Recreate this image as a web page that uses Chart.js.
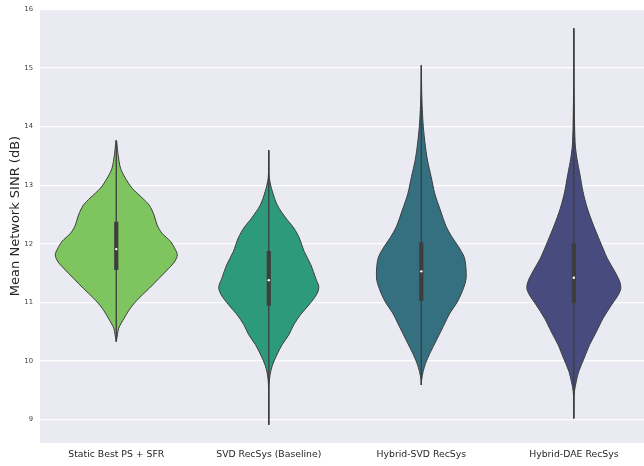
<!DOCTYPE html>
<html>
<head>
<meta charset="utf-8">
<script src="https://cdn.jsdelivr.net/npm/chart.js@4.4.1/dist/chart.umd.min.js"></script>
<style>
  html, body { margin: 0; padding: 0; background: #fff; }
  #sinr-chart { display: block; }
</style>
</head>
<body>
<canvas id="sinr-chart" width="644" height="466"></canvas>
<script>
const categories = ['Static Best PS + SFR', 'SVD RecSys (Baseline)', 'Hybrid-SVD RecSys', 'Hybrid-DAE RecSys'];
const yTicks = [9, 10, 11, 12, 13, 14, 15, 16];

// Density profiles: SINR level (dB) and relative violin width (widest = 1)
const staticLevels = [10.33, 10.45, 10.56, 10.73, 10.90, 11.07, 11.24, 11.41, 11.58, 11.70, 11.81, 11.90, 12.04, 12.18, 12.32, 12.49, 12.66, 12.78, 12.95, 13.12, 13.29, 13.52, 13.77];
const staticWidths = [0, 0.02, 0.04, 0.13, 0.23, 0.37, 0.54, 0.70, 0.86, 0.96, 1.0, 0.97, 0.89, 0.75, 0.67, 0.62, 0.54, 0.43, 0.26, 0.15, 0.07, 0.03, 0];

const svdLevels = [8.91, 9.30, 9.59, 9.76, 9.93, 10.10, 10.28, 10.45, 10.62, 10.79, 10.96, 11.13, 11.26, 11.41, 11.64, 11.87, 12.10, 12.27, 12.44, 12.66, 12.89, 13.12, 13.60];
const svdWidths = [0, 0.002, 0.005, 0.02, 0.06, 0.13, 0.22, 0.33, 0.41, 0.52, 0.66, 0.78, 0.82, 0.77, 0.69, 0.58, 0.50, 0.41, 0.28, 0.14, 0.06, 0.01, 0];

const hybridSvdLevels = [9.59, 9.68, 9.82, 9.96, 10.13, 10.36, 10.59, 10.82, 10.99, 11.16, 11.38, 11.61, 11.78, 11.95, 12.12, 12.29, 12.58, 12.86, 13.15, 13.43, 13.72, 14.00, 14.29, 14.60, 15.05];
const hybridSvdWidths = [0, 0.005, 0.03, 0.07, 0.14, 0.25, 0.36, 0.47, 0.58, 0.66, 0.73, 0.73, 0.70, 0.61, 0.50, 0.41, 0.31, 0.22, 0.16, 0.10, 0.06, 0.033, 0.016, 0.006, 0];

const hybridDaeLevels = [9.02, 9.30, 9.48, 9.65, 9.82, 10.05, 10.28, 10.50, 10.73, 10.96, 11.13, 11.24, 11.36, 11.53, 11.75, 12.04, 12.32, 12.61, 12.89, 13.18, 13.46, 13.74, 14.60, 15.68];
const hybridDaeWidths = [0, 0.003, 0.01, 0.04, 0.08, 0.17, 0.26, 0.37, 0.48, 0.62, 0.73, 0.77, 0.75, 0.67, 0.55, 0.43, 0.32, 0.22, 0.15, 0.10, 0.05, 0.02, 0.005, 0];

// Inner box: quartiles, medians and whisker ends
const q1 = [11.56, 10.95, 11.03, 10.99];
const q3 = [12.37, 11.87, 12.02, 12.00];
const medians = [11.91, 11.38, 11.53, 11.42];
const whiskerLow = [10.33, 8.91, 9.59, 9.02];
const whiskerHigh = [13.77, 13.60, 15.05, 15.68];

const fillColors = ['#7ec45f', '#2e9a7c', '#357080', '#474b7e'];
const edgeColor = '#3d3d3d';
const halfWidth = 0.4;

const profiles = [
    [staticLevels, staticWidths],
    [svdLevels, svdWidths],
    [hybridSvdLevels, hybridSvdWidths],
    [hybridDaeLevels, hybridDaeWidths],
];

// Outline goes up the right side and back down the left side
function violinPath(center, levels, widths) {
    const pts = [];
    for (let i = 0; i < levels.length; i++) {
        pts.push({ x: center + widths[i] * halfWidth, y: levels[i] });
    }
    for (let i = levels.length - 2; i >= 0; i--) {
        pts.push({ x: center - widths[i] * halfWidth, y: levels[i] });
    }
    return pts;
}

const datasets = [];

profiles.forEach(([levels, widths], i) => {
    datasets.push({
        type: 'line',
        data: violinPath(i, levels, widths),
        backgroundColor: fillColors[i],
        borderColor: edgeColor,
        borderWidth: 1,
        fill: 'shape',
        tension: 0.3,
        pointRadius: 0,
        order: 4,
    });
});

categories.forEach((c, i) => {
    datasets.push({
        type: 'line',
        data: [{ x: i, y: whiskerLow[i] }, { x: i, y: whiskerHigh[i] }],
        borderColor: edgeColor,
        borderWidth: 1.3,
        pointRadius: 0,
        fill: false,
        order: 3,
    });
});

datasets.push({
    type: 'bar',
    data: categories.map((c, i) => ({ x: i, y: [q1[i], q3[i]] })),
    backgroundColor: edgeColor,
    borderWidth: 0,
    barThickness: 3.5,
    order: 2,
});

datasets.push({
    type: 'scatter',
    data: categories.map((c, i) => ({ x: i, y: medians[i] })),
    backgroundColor: '#ffffff',
    borderWidth: 0,
    pointRadius: 1.2,
    order: 1,
});

const panelBackground = {
    id: 'panelBackground',
    beforeDraw(chart) {
        const { ctx, chartArea: a } = chart;
        ctx.save();
        ctx.fillStyle = '#eaeaf2';
        ctx.fillRect(a.left, a.top, a.right - a.left, a.bottom - a.top);
        ctx.restore();
    },
    afterDraw(chart) {
        const { ctx } = chart;
        ctx.save();
        ctx.translate(16, 216);
        ctx.rotate(-Math.PI / 2);
        ctx.font = '13px "DejaVu Sans"';
        ctx.fillStyle = '#262626';
        ctx.textAlign = 'center';
        ctx.textBaseline = 'middle';
        ctx.fillText('Mean Network SINR (dB)', 0, 0);
        ctx.restore();
    },
};

new Chart(document.getElementById('sinr-chart'), {
    data: { datasets },
    plugins: [panelBackground],
    options: {
        responsive: false,
        animation: false,
        devicePixelRatio: 1,
        layout: { autoPadding: false, padding: { top: 9.5, right: 0, left: 0, bottom: 0 } },
        plugins: {
            legend: { display: false },
            tooltip: { enabled: false },
        },
        scales: {
            x: {
                type: 'linear',
                min: -0.5,
                max: 3.46,
                offset: false,
                afterFit: s => { s.height = 23; s.paddingRight = 0; s.paddingLeft = 0; },
                afterBuildTicks: s => { s.ticks = categories.map((c, i) => ({ value: i })); },
                ticks: {
                    callback: v => categories[v],
                    font: { family: 'DejaVu Sans', size: 9.3 },
                    color: '#262626',
                    padding: 6,
                    maxRotation: 0,
                    autoSkip: false,
                },
                grid: { display: false, drawTicks: false, offset: false },
                border: { display: false },
            },
            y: {
                type: 'linear',
                min: 8.6,
                max: 16,
                afterFit: s => { s.width = 40; s.paddingTop = 0; s.paddingBottom = 0; },
                afterBuildTicks: s => { s.ticks = yTicks.map(v => ({ value: v })); },
                ticks: {
                    font: { family: 'DejaVu Sans', size: 6.8 },
                    color: '#444',
                    padding: 7,
                },
                grid: { color: '#ffffff', lineWidth: 1.2, drawTicks: false },
                border: { display: false },
            },
        },
    },
});
</script>
</body>
</html>
